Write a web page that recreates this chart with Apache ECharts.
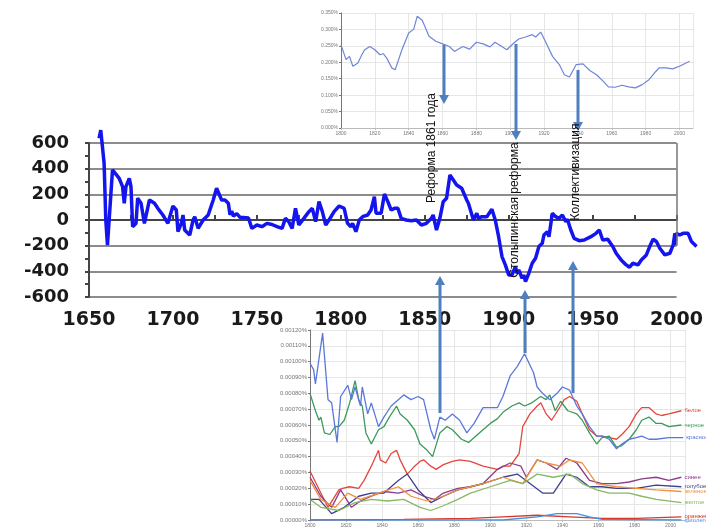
<!DOCTYPE html>
<html>
<head>
<meta charset="utf-8">
<script src="https://cdn.jsdelivr.net/npm/echarts@6/dist/echarts.min.js"></script>
<style>
  html, body { margin: 0; padding: 0; background: #fff; }
  #chart { width: 706px; height: 529px; }
</style>
</head>
<body>
<div id="chart"></div>
<script>
// основной график (толстая синяя линия)
const mainYears = [1656, 1657, 1659, 1660, 1661, 1662, 1664, 1665, 1668, 1670, 1671, 1672, 1674, 1675, 1676, 1678, 1679, 1681, 1683, 1686,
  1689, 1691, 1694, 1697, 1700, 1702, 1703, 1705, 1706, 1707, 1708, 1710, 1712, 1713, 1715, 1718, 1721, 1724, 1726, 1727,
  1729, 1731, 1733, 1734, 1735, 1736, 1738, 1740, 1742, 1745, 1747, 1750, 1753, 1756, 1759, 1762, 1765, 1767, 1769, 1771,
  1773, 1775, 1778, 1781, 1783, 1785, 1787, 1789, 1791, 1793, 1796, 1799, 1802, 1804, 1806, 1807, 1809, 1811, 1813, 1816,
  1818, 1820, 1821, 1824, 1826, 1828, 1830, 1832, 1834, 1836, 1839, 1842, 1845, 1848, 1851, 1854, 1855, 1857, 1859, 1861,
  1863, 1865, 1867, 1869, 1872, 1875, 1876, 1879, 1881, 1882, 1884, 1887, 1890, 1892, 1894, 1896, 1898, 1900, 1902, 1904,
  1905, 1906, 1908, 1909, 1910, 1912, 1914, 1916, 1918, 1920, 1921, 1923, 1924, 1926, 1928, 1930, 1932, 1934, 1935, 1937,
  1939, 1942, 1945, 1949, 1952, 1954, 1956, 1959, 1962, 1964, 1967, 1970, 1972, 1974, 1977, 1979, 1982, 1984, 1986, 1988,
  1990, 1993, 1996, 1998, 1999, 2001, 2003, 2006, 2008, 2011]
const mainValues = [637, 700, 442, 0, -195, 0, 390, 390, 325, 260, 130, 260, 325, 260, -52, -26, 170, 130, -26, 156,
  130, 91, 39, -26, 109, 78, -91, -26, 39, -78, -78, -117, 0, 26, -65, 0, 39, 156, 247, 234,
  156, 156, 130, 40, 70, 30, 50, 20, 20, 15, -65, -39, -52, -26, -35, -52, -65, 13, -13, -65,
  91, -39, 13, 65, 91, -13, 143, 65, -39, 0, 65, 109, 91, -26, -52, -26, -91, 0, 26, 39,
  78, 182, 52, 52, 203, 143, 78, 91, 91, 13, 0, -5, 0, -39, -26, 13, 39, -78, 13, 143,
  169, 351, 312, 273, 247, 156, 130, 0, 52, 13, 26, 26, 83, 0, -130, -285, -350, -428, -428, -363,
  -415, -389, -454, -428, -480, -415, -337, -298, -207, -182, -117, -91, -130, 52, 26, 13, 39, -13, 5, -78,
  -143, -161, -156, -130, -104, -78, -156, -150, -207, -259, -311, -350, -368, -337, -350, -311, -272, -207, -150, -168,
  -220, -272, -259, -194, -104, -117, -104, -104, -168, -207]

// верхняя вставка, проценты
const topYears = [1800, 1803, 1805, 1807, 1810, 1812, 1814, 1817, 1820, 1823, 1825, 1827, 1830, 1832, 1836, 1840, 1843, 1845, 1848, 1852,
  1856, 1860, 1864, 1867, 1872, 1876, 1880, 1884, 1888, 1891, 1895, 1898, 1902, 1905, 1909, 1913, 1915, 1918, 1921, 1925,
  1929, 1932, 1935, 1939, 1943, 1947, 1951, 1955, 1958, 1962, 1966, 1970, 1974, 1978, 1982, 1986, 1988, 1992, 1996, 2000, 2006]
const topValues = [0.253, 0.208, 0.218, 0.188, 0.198, 0.220, 0.238, 0.248, 0.238, 0.223, 0.226, 0.213, 0.183, 0.177, 0.238, 0.289, 0.301, 0.340, 0.328, 0.279,
  0.264, 0.256, 0.248, 0.233, 0.248, 0.240, 0.261, 0.256, 0.247, 0.261, 0.248, 0.238, 0.258, 0.271, 0.277, 0.284, 0.277, 0.292, 0.261, 0.218,
  0.193, 0.162, 0.155, 0.193, 0.195, 0.175, 0.162, 0.142, 0.125, 0.124, 0.130, 0.125, 0.122, 0.132, 0.147, 0.172, 0.183, 0.183, 0.180, 0.188, 0.203]

// нижняя вставка, единицы 0.00001%
const krasnoeYears = [1800, 1802, 1803, 1807, 1810, 1812, 1815, 1817, 1821, 1823, 1825, 1828, 1829, 1832, 1834, 1838, 1841, 1845, 1849, 1852,
  1856, 1860, 1863, 1867, 1869, 1872, 1875, 1879, 1883, 1887, 1891, 1896, 1904, 1907, 1911, 1915, 1919, 1924, 1926, 1929,
  1933, 1937, 1940, 1944, 1948, 1951, 1955, 1959, 1962, 1966, 1970, 1973, 1977, 1981, 1984, 1988, 1992, 1999, 2007]
const krasnoeValues = [99, 95, 86, 118, 76, 74, 49, 78, 85, 76, 84, 72, 84, 67, 74, 59, 65, 72, 76, 79,
  76, 78, 76, 57, 51, 65, 63, 67, 63, 55, 61, 71, 71, 78, 91, 97, 105, 93, 84, 80,
  76, 80, 84, 82, 72, 67, 59, 53, 53, 51, 45, 48, 51, 52, 53, 51, 51, 52, 52]
const chernoeYears = [1800, 1803, 1805, 1806, 1808, 1811, 1814, 1816, 1819, 1822, 1825, 1827, 1829, 1831, 1834, 1838, 1841, 1844, 1848, 1850,
  1854, 1858, 1861, 1865, 1868, 1872, 1876, 1879, 1884, 1888, 1892, 1896, 1900, 1904, 1907, 1912, 1916, 1919, 1923, 1928,
  1931, 1933, 1936, 1939, 1943, 1948, 1951, 1955, 1959, 1962, 1966, 1970, 1973, 1977, 1981, 1984, 1988, 1992, 1995, 1999, 2006]
const chernoeValues = [80, 69, 63, 65, 55, 54, 59, 59, 63, 74, 88, 76, 72, 55, 48, 57, 59, 65, 72, 67,
  63, 57, 48, 44, 40, 55, 59, 57, 51, 49, 53, 57, 61, 64, 68, 72, 74, 72, 74, 78,
  76, 79, 69, 75, 69, 67, 63, 55, 48, 52, 53, 46, 47, 51, 57, 63, 65, 61, 61, 59, 60]
const beloeYears = [1800, 1806, 1810, 1816, 1818, 1822, 1827, 1830, 1834, 1838, 1839, 1842, 1845, 1848, 1850, 1854, 1858, 1861, 1863, 1867,
  1870, 1874, 1879, 1883, 1889, 1896, 1904, 1907, 1911, 1916, 1918, 1922, 1926, 1928, 1931, 1934, 1939, 1941, 1944, 1948,
  1951, 1955, 1959, 1962, 1966, 1970, 1973, 1977, 1981, 1984, 1988, 1992, 1995, 1999, 2006]
const beloeValues = [31, 17, 8, 19, 20, 21, 20, 25, 34, 44, 38, 36, 42, 44, 38, 29, 34, 37, 38, 34,
  32, 35, 37, 38, 37, 34, 32, 34, 34, 42, 59, 67, 72, 74, 67, 63, 72, 76, 78, 75,
  67, 57, 53, 53, 52, 51, 54, 59, 67, 71, 71, 67, 66, 67, 69]
const sineeYears = [1800, 1806, 1812, 1817, 1823, 1828, 1834, 1841, 1849, 1856, 1863, 1869, 1874, 1882, 1889, 1896, 1904, 1911, 1917, 1920,
  1926, 1931, 1937, 1942, 1948, 1955, 1962, 1970, 1977, 1984, 1992, 1999, 2006]
const sineeValues = [27, 15, 8, 19, 8, 12, 15, 18, 17, 19, 15, 13, 17, 20, 21, 23, 32, 36, 34, 27,
  38, 36, 32, 39, 36, 25, 23, 23, 24, 26, 27, 25, 27]
const goluboeYears = [1800, 1805, 1812, 1819, 1827, 1834, 1841, 1849, 1854, 1860, 1867, 1874, 1882, 1889, 1896, 1907, 1915, 1922, 1929, 1935,
  1942, 1948, 1955, 1962, 1970, 1981, 1992, 2006]
const goluboeValues = [13, 13, 4, 8, 15, 17, 17, 25, 29, 19, 11, 15, 19, 21, 23, 27, 29, 23, 17, 17,
  29, 27, 21, 21, 20, 20, 22, 21]
const zelenoeYears = [1800, 1806, 1814, 1821, 1828, 1838, 1849, 1856, 1865, 1874, 1882, 1889, 1896, 1907, 1918, 1926, 1931, 1939, 1944, 1951,
  1959, 1970, 1981, 1992, 2006]
const zelenoeValues = [25, 13, 8, 17, 13, 17, 21, 15, 12, 15, 19, 21, 23, 27, 23, 38, 36, 34, 38, 36,
  23, 21, 20, 19, 18]
const zheltoeYears = [1800, 1806, 1816, 1825, 1834, 1843, 1852, 1861, 1867, 1874, 1882, 1889, 1900, 1911, 1918, 1926, 1935, 1944, 1951, 1959,
  1966, 1977, 1984, 1992, 2006]
const zheltoeValues = [13, 8, 6, 11, 13, 12, 13, 8, 6, 9, 13, 17, 21, 25, 23, 29, 27, 29, 23, 19,
  17, 17, 15, 13, 11]
const oranzhevoeYears = [1800, 1852, 1889, 1907, 1926, 1944, 1962, 1981, 2006]
const oranzhevoeValues = [0, 0.4, 1, 2, 3, 2, 1, 1, 2]
const fioletovoeYears = [1800, 1907, 1926, 1937, 1948, 1955, 1962, 2006]
const fioletovoeValues = [0, 0, 2, 4, 4, 2, 0.4, 0]

const ngramNames = ['белое', 'черное', 'красное', 'синее', 'голубое', 'зеленое', 'желтое', 'оранжевое', 'фиолетовое']
const ngramColors = ['#e4473c', '#3c9a5c', '#5a78dc', '#8e3c8e', '#3f3f8f', '#f0903c', '#86b864', '#d8382a', '#3d92e6']
const ngramData = [
  [beloeYears, beloeValues], [chernoeYears, chernoeValues], [krasnoeYears, krasnoeValues],
  [sineeYears, sineeValues], [goluboeYears, goluboeValues], [zelenoeYears, zelenoeValues],
  [zheltoeYears, zheltoeValues], [oranzhevoeYears, oranzhevoeValues], [fioletovoeYears, fioletovoeValues]
]

// подписи событий и стрелки (разметка картинки)
const eventLabels = ['Реформа 1861 года', 'Столыпинская реформа', 'Коллективизация']
const labelPos = [[432, 148], [515, 210], [576, 172]]
const arrowsDown = [[444, 45, 104], [516, 44, 140], [578, 70, 131]]
const arrowsUp = [[440, 413, 276], [525, 353, 290], [573, 393, 261]]

const zip = (xs, ys) => xs.map((x, i) => [x, ys[i]])
// хвост после 2000 года рисуется в отдельной сетке за рамкой
const tailFrom = 1998
const mainPairs = zip(mainYears, mainValues)
const mainHead = mainPairs.filter(p => p[0] <= 2000)
const mainTail = mainPairs.filter(p => p[0] >= tailFrom)

const arrowColor = '#4f7fbf'
function arrow (x, from, to) {
  let dir = Math.sign(to - from)
  return [
    { type: 'line', z: 100, shape: { x1: x, y1: from, x2: x, y2: to - dir * 7 }, style: { stroke: arrowColor, lineWidth: 3 } },
    { type: 'polygon', z: 100, shape: { points: [[x - 5, to - dir * 9], [x + 5, to - dir * 9], [x, to]] }, style: { fill: arrowColor } }
  ]
}

let graphics = []
arrowsDown.concat(arrowsUp).forEach(a => { graphics = graphics.concat(arrow(a[0], a[1], a[2])) })
eventLabels.forEach((t, i) => {
  graphics.push({
    type: 'text',
    z: 101,
    x: labelPos[i][0],
    y: labelPos[i][1],
    rotation: Math.PI / 2,
    style: { text: t, font: '12px "Liberation Sans"', fill: '#111', align: 'center', verticalAlign: 'middle' }
  })
})

const small = { fontSize: 5, color: '#777', fontFamily: 'Liberation Sans' }
const lightGrid = { lineStyle: { color: '#e6e6e6', width: 1 } }
const plain = v => String(v)
const pxPerYear = 589 / 350
const axisDark = '#444'

const chart = echarts.init(document.getElementById('chart'), null, { renderer: 'canvas' })
chart.setOption({
  animation: false,
  backgroundColor: '#fff',
  grid: [
    { left: 89, right: 28, top: 143, height: 154 },
    { left: 341, right: 13, top: 13, height: 115 },
    { left: 310, right: 21, top: 330, height: 190 },
    { left: 678 - (2000 - tailFrom) * pxPerYear, width: (2012 - tailFrom) * pxPerYear, top: 143, height: 154 }
  ],
  xAxis: [
    {
      gridIndex: 0,
      type: 'value',
      min: 1650,
      max: 2000,
      interval: 50,
      axisLine: { lineStyle: { color: axisDark, width: 2 } },
      axisTick: { inside: true, length: 5, lineStyle: { color: axisDark, width: 2 } },
      minorTick: { show: true, splitNumber: 2, length: 5, lineStyle: { color: axisDark, width: 2 } },
      splitLine: { show: false },
      axisLabel: { fontSize: 19, fontWeight: 'bold', fontFamily: 'DejaVu Sans', color: '#1a1a1a', margin: 14, formatter: plain }
    },
    {
      gridIndex: 1,
      type: 'value',
      min: 1800,
      max: 2008,
      interval: 20,
      axisLine: { lineStyle: { color: '#bbb' } },
      axisTick: { length: 2, lineStyle: { color: '#bbb' } },
      splitLine: lightGrid,
      axisLabel: { ...small, margin: 3, showMaxLabel: false, formatter: plain }
    },
    {
      gridIndex: 2,
      type: 'value',
      min: 1800,
      max: 2008,
      interval: 20,
      axisLine: { lineStyle: { color: '#bbb' } },
      axisTick: { length: 2, lineStyle: { color: '#bbb' } },
      splitLine: lightGrid,
      axisLabel: { ...small, margin: 3, showMaxLabel: false, formatter: plain }
    },
    { gridIndex: 3, type: 'value', min: tailFrom, max: 2012, show: false }
  ],
  yAxis: [
    {
      gridIndex: 0,
      type: 'value',
      min: -600,
      max: 600,
      interval: 200,
      axisLine: { show: true, lineStyle: { color: axisDark, width: 2 } },
      axisTick: { show: true, length: 4, lineStyle: { color: axisDark, width: 2 } },
      minorTick: { show: true, splitNumber: 2, length: 4, lineStyle: { color: axisDark, width: 2 } },
      splitLine: { lineStyle: { color: '#8c8c8c', width: 2 } },
      axisLabel: { fontSize: 18, fontWeight: 'bold', fontFamily: 'DejaVu Sans', color: '#1a1a1a', margin: 20 }
    },
    {
      gridIndex: 1,
      type: 'value',
      min: 0,
      max: 0.35,
      interval: 0.05,
      axisLine: { show: true, lineStyle: { color: '#777' } },
      axisTick: { show: true, length: 2, lineStyle: { color: '#777' } },
      splitLine: lightGrid,
      axisLabel: { ...small, margin: 3, formatter: v => v.toFixed(3) + '%' }
    },
    {
      gridIndex: 2,
      type: 'value',
      min: 0,
      max: 120,
      interval: 10,
      axisLine: { show: true, lineStyle: { color: '#777' } },
      axisTick: { show: true, length: 2, lineStyle: { color: '#777' } },
      splitLine: lightGrid,
      axisLabel: { fontSize: 6, color: '#777', fontFamily: 'Liberation Sans', margin: 3, formatter: v => (v / 100000).toFixed(5) + '%' }
    },
    { gridIndex: 3, type: 'value', min: -600, max: 600, show: false }
  ],
  series: [
    {
      name: 'main',
      type: 'line',
      xAxisIndex: 0,
      yAxisIndex: 0,
      clip: false,
      showSymbol: false,
      data: mainHead,
      lineStyle: { color: '#1414ee', width: 3.5 },
      markLine: {
        silent: true,
        symbol: 'none',
        label: { show: false },
        data: [
          [{ coord: [2000, 600] }, { coord: [2000, -200] }],
          [{ coord: [1650, 600], lineStyle: { color: axisDark, width: 2 } }, { coord: [1650, 700] }]
        ],
        lineStyle: { color: '#777', width: 1.5, type: 'solid' }
      }
    },
    {
      name: 'tail',
      type: 'line',
      xAxisIndex: 3,
      yAxisIndex: 3,
      showSymbol: false,
      data: mainTail,
      lineStyle: { color: '#1414ee', width: 3.5 }
    },
    {
      name: 'top',
      type: 'line',
      xAxisIndex: 1,
      yAxisIndex: 1,
      showSymbol: false,
      data: zip(topYears, topValues),
      lineStyle: { color: '#6f86d6', width: 1.2 }
    },
    ...ngramData.map((d, i) => ({
      name: ngramNames[i],
      type: 'line',
      xAxisIndex: 2,
      yAxisIndex: 2,
      showSymbol: false,
      data: zip(d[0], d[1]),
      lineStyle: { color: ngramColors[i], width: 1.3 },
      endLabel: { show: true, formatter: '{a}', color: ngramColors[i], fontSize: 6, distance: 3 }
    }))
  ],
  graphic: graphics
})
</script>
</body>
</html>
